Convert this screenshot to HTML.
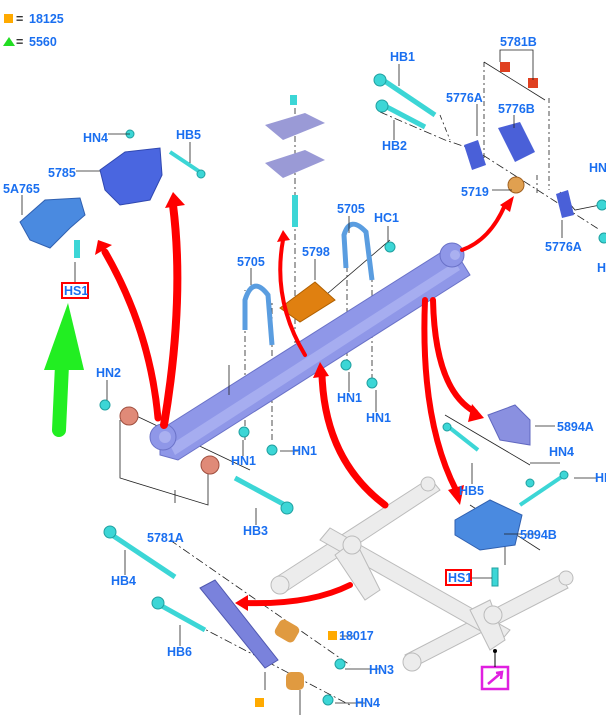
<!DOCTYPE html>
<html><head><meta charset="utf-8"><style>
html,body{margin:0;padding:0;background:#fff;width:606px;height:721px;overflow:hidden}
svg{display:block}
text{font-family:"Liberation Sans",Arial,sans-serif;font-weight:bold;font-size:12.5px;fill:#1a6ff0}
</style></head><body>
<svg width="606" height="721" viewBox="0 0 606 721" xmlns="http://www.w3.org/2000/svg">
<rect x="4" y="14" width="9" height="9" fill="#ffaa00"/>
<text x="16" y="23" style="fill:#333">=</text><text x="29" y="23">18125</text>
<polygon points="3,46 9,37 15,46" fill="#22dd22"/>
<text x="16" y="46" style="fill:#333">=</text><text x="29" y="46">5560</text>

<g stroke="#bbb" stroke-width="1" fill="#ececec">
<polygon points="275,578 430,478 440,490 285,592"/>
<polygon points="405,655 560,575 568,588 412,668"/>
<polygon points="320,540 330,528 510,630 500,642"/>
<polygon points="335,555 355,540 380,590 365,600"/>
<polygon points="470,610 490,600 505,640 490,650"/>
<circle cx="280" cy="585" r="9"/><circle cx="412" cy="662" r="9"/>
<circle cx="428" cy="484" r="7"/><circle cx="566" cy="578" r="7"/>
<circle cx="352" cy="545" r="9"/><circle cx="493" cy="615" r="9"/>
</g>
<rect x="482" y="667" width="26" height="22" fill="#fff" stroke="#e020e0" stroke-width="2.5"/>
<path d="M488,684 L501,673 M496,673 L502,672 L501,679" stroke="#e020e0" stroke-width="2.5" fill="none"/>
<line x1="495" y1="667" x2="495" y2="651" stroke="#000"/><circle cx="495" cy="651" r="2"/>

<g stroke="#222" stroke-width="0.8" fill="none">
<path d="M128,412 L250,470"/>
<path d="M120,420 L120,478 L208,505 L208,473"/><path d="M175,490 L175,503"/>
<path d="M245,440 L245,290 M272,440 L272,300" stroke-dasharray="6,3,2,3"/>
<path d="M347,370 L347,255 M372,380 L372,270" stroke-dasharray="6,3,2,3"/>
<path d="M295,352 L295,100" stroke-dasharray="6,3,2,3"/>
<path d="M320,300 L390,240"/>
<path d="M380,112 L445,140 L475,150 L600,230" stroke-dasharray="8,3,2,3"/>
<path d="M440,115 L450,140 M484,62 L484,165 M549,98 L549,190 M537,175 L537,195" stroke-dasharray="5,3,2,3"/>
<path d="M484,62 L545,100"/>
<path d="M560,192 L575,210 L600,205"/>
<path d="M470,505 L540,550"/>
<path d="M170,540 L350,665 M168,610 L350,705" stroke-dasharray="8,3,2,3"/>
<path d="M445,415 L530,465"/>
<path d="M505,540 L505,565"/>
</g>

<polygon points="160,430 448,248 462,262 470,275 178,460 160,455" fill="#8f97e8" stroke="#6a72c8"/>
<polygon points="170,445 455,262 460,270 175,455" fill="#a6adf0"/>
<circle cx="163" cy="437" r="13" fill="#8f97e8" stroke="#6a72c8"/><circle cx="165" cy="437" r="6" fill="#aab0f0"/>
<circle cx="452" cy="255" r="12" fill="#8f97e8" stroke="#6a72c8"/><circle cx="455" cy="255" r="5" fill="#aab0f0"/>

<path d="M245,330 L245,300 Q253,275 268,295 L272,345" stroke="#5a9de0" stroke-width="5" fill="none"/>
<path d="M346,268 L344,235 Q350,215 366,232 L372,280" stroke="#5a9de0" stroke-width="5" fill="none"/>
<polygon points="280,308 315,282 335,300 300,322" fill="#e08010" stroke="#b06000"/>
<polygon points="265,125 305,113 325,123 283,140" fill="#9a9ad6"/>
<polygon points="265,163 305,150 325,160 283,178" fill="#9a9ad6"/>
<rect x="290" y="95" width="7" height="10" fill="#3cd6d6"/>
<rect x="292" y="195" width="6" height="32" fill="#3cd6d6"/>

<path d="M100,170 L125,152 L160,148 L162,175 L150,200 L120,205 L105,190 Z" fill="#4a66e0" stroke="#3048b0"/>
<path d="M20,222 L45,200 L80,198 L85,215 L70,228 L50,248 L30,240 Z" fill="#4a8ae0" stroke="#3060b0"/>
<rect x="74" y="240" width="6" height="18" fill="#3cd6d6"/>
<g fill="#3cd6d6" stroke="#20a0a0">
<circle cx="130" cy="134" r="4"/><path d="M170,152 L200,172" stroke-width="4" stroke="#3cd6d6"/><circle cx="201" cy="174" r="4"/>
<path d="M383,80 L435,115" stroke-width="5" stroke="#3cd6d6"/><circle cx="380" cy="80" r="6"/>
<path d="M385,106 L425,127" stroke-width="5" stroke="#3cd6d6"/><circle cx="382" cy="106" r="6"/>
<circle cx="390" cy="247" r="5"/>
<circle cx="105" cy="405" r="5"/>
<path d="M235,478 L285,505" stroke-width="5" stroke="#3cd6d6"/><circle cx="287" cy="508" r="6"/>
<circle cx="244" cy="432" r="5"/><circle cx="272" cy="450" r="5"/><circle cx="346" cy="365" r="5"/><circle cx="372" cy="383" r="5"/>
<path d="M450,428 L478,450" stroke-width="4" stroke="#3cd6d6"/><circle cx="447" cy="427" r="4"/><circle cx="530" cy="483" r="4"/>
<path d="M520,505 L563,476" stroke-width="4" stroke="#3cd6d6"/><circle cx="564" cy="475" r="4"/>
<rect x="492" y="568" width="6" height="18"/>
<path d="M112,535 L175,577" stroke-width="5" stroke="#3cd6d6"/><circle cx="110" cy="532" r="6"/>
<path d="M160,605 L205,630" stroke-width="5" stroke="#3cd6d6"/><circle cx="158" cy="603" r="6"/>
<circle cx="340" cy="664" r="5"/><circle cx="328" cy="700" r="5"/>
<circle cx="602" cy="205" r="5"/><circle cx="604" cy="238" r="5"/>
</g>
<circle cx="129" cy="416" r="9" fill="#e08a78" stroke="#a05040"/>
<circle cx="210" cy="465" r="9" fill="#e08a78" stroke="#a05040"/>
<circle cx="516" cy="185" r="8" fill="#e0a050" stroke="#a06020"/>
<rect x="500" y="62" width="10" height="10" fill="#e04020"/><rect x="528" y="78" width="10" height="10" fill="#e04020"/>
<path d="M464,145 L478,140 L486,165 L472,170 Z" fill="#4a60d8"/>
<path d="M498,128 L520,122 L535,152 L515,162 Z" fill="#4a60d8"/>
<path d="M556,194 L568,190 L574,215 L562,218 Z" fill="#4a60d8"/>
<path d="M488,415 L515,405 L530,420 L530,445 L500,440 Z" fill="#8a90e0" stroke="#6068c0"/>
<path d="M455,520 L490,500 L522,515 L515,545 L480,550 L455,535 Z" fill="#4a8ae0" stroke="#3060b0"/>
<path d="M200,588 L215,580 L278,660 L265,668 Z" fill="#7a82dc" stroke="#5058b0"/>
<rect x="276" y="622" width="22" height="18" rx="5" fill="#e09a40" transform="rotate(30 287 631)"/>
<rect x="286" y="672" width="18" height="18" rx="5" fill="#e09a40"/>
<rect x="255" y="698" width="9" height="9" fill="#ffaa00"/>
<rect x="328" y="631" width="9" height="9" fill="#ffaa00"/>

<g stroke="#ff0000" fill="none" stroke-linecap="round">
<path d="M164,425 Q185,300 173,205" stroke-width="8"/>
<path d="M158,418 Q150,330 105,252" stroke-width="7"/>
<path d="M305,355 Q272,300 283,240" stroke-width="4"/>
<path d="M385,505 Q325,460 322,375" stroke-width="7"/>
<path d="M462,250 Q490,240 505,205" stroke-width="4"/>
<path d="M433,300 Q435,390 475,412" stroke-width="6"/>
<path d="M425,300 Q420,420 456,490" stroke-width="6"/>
<path d="M350,585 Q310,605 245,603" stroke-width="6"/>
</g>
<g fill="#ff0000">
<polygon points="165,208 173,192 185,205"/>
<polygon points="95,255 98,240 112,245"/>
<polygon points="277,242 283,230 290,240"/>
<polygon points="313,378 320,362 329,376"/>
<polygon points="500,205 514,196 510,212"/>
<polygon points="472,404 484,418 468,422"/>
<polygon points="448,490 460,505 464,485"/>
<polygon points="248,595 235,603 248,611"/>
</g>
<path d="M59,430 L62,365" stroke="#22ee22" stroke-width="14" stroke-linecap="round"/>
<polygon points="44,370 68,303 84,370" fill="#22ee22"/>

<g stroke="#222" stroke-width="0.8" fill="none">
<path d="M108,134 L130,134 M190,142 L190,163 M76,171 L100,171 M22,195 L22,215 M75,283 L75,262"/>
<path d="M399,64 L399,86 M394,140 L394,120 M477,104 L477,136 M514,115 L514,128 M500,62 L500,50 L533,50 L533,80 M492,190 L512,190 M562,238 L562,220"/>
<path d="M251,268 L251,285 M349,216 L349,233 M388,226 L388,242 M315,259 L315,280 M229,365 L229,395"/>
<path d="M107,380 L107,400 M349,392 L349,372 M376,412 L376,390 M243,456 L243,440 M280,451 L298,451"/>
<path d="M535,426 L555,426 M472,484 L472,463 M530,463 L560,463 M574,478 L596,478 M504,534 L536,534 M472,578 L492,578"/>
<path d="M256,525 L256,508 M125,575 L125,550 M180,646 L180,625 M340,636 L355,636 M345,669 L380,669 M335,703 L365,703 M265,690 L265,672 M300,715 L300,690"/>
</g>
<text x="83" y="142">HN4</text><text x="176" y="139">HB5</text><text x="48" y="177">5785</text><text x="3" y="193">5A765</text>
<rect x="62" y="283" width="26" height="15" fill="#fff" stroke="#ff0000" stroke-width="2"/><text x="64" y="295">HS1</text>
<text x="390" y="61">HB1</text><text x="500" y="46">5781B</text><text x="446" y="102">5776A</text><text x="498" y="113">5776B</text>
<text x="382" y="150">HB2</text><text x="461" y="196">5719</text><text x="589" y="172">HN</text><text x="545" y="251">5776A</text><text x="597" y="272">H</text>
<text x="237" y="266">5705</text><text x="337" y="213">5705</text><text x="374" y="222">HC1</text><text x="302" y="256">5798</text>
<text x="96" y="377">HN2</text><text x="337" y="402">HN1</text><text x="366" y="422">HN1</text><text x="231" y="465">HN1</text><text x="292" y="455">HN1</text>
<text x="557" y="431">5894A</text><text x="459" y="495">HB5</text><text x="549" y="456">HN4</text><text x="595" y="482">HB</text><text x="520" y="539">5894B</text>
<rect x="446" y="570" width="25" height="15" fill="#fff" stroke="#ff0000" stroke-width="2"/><text x="448" y="582">HS1</text>
<text x="147" y="542">5781A</text><text x="243" y="535">HB3</text><text x="111" y="585">HB4</text><text x="167" y="656">HB6</text>
<text x="339" y="640">18017</text><text x="369" y="674">HN3</text><text x="355" y="707">HN4</text>
</svg>
</body></html>
